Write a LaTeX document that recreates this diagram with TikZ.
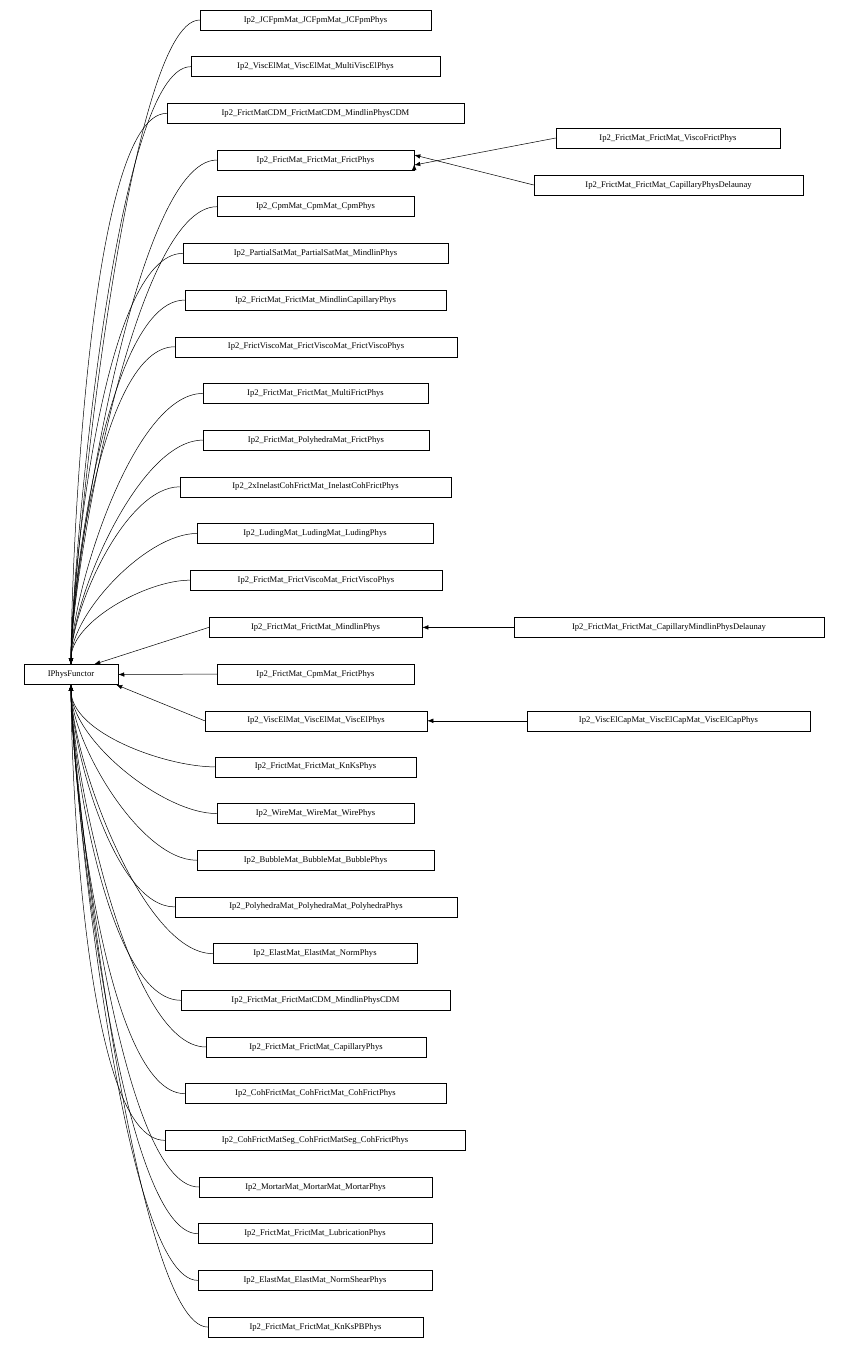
\documentclass[tikz,border=0pt]{standalone}
\usepackage{fontspec}
\setmainfont{Liberation Serif}
\usetikzlibrary{arrows.meta}
\begin{document}
\begin{tikzpicture}[x=1pt,y=-1pt,
  cls/.style={draw,line width=0.5pt,inner sep=0pt,minimum height=20pt,font=\fontsize{8.6}{10}\selectfont,anchor=center},
  arr/.style={line width=0.5pt,{Latex[length=6pt,width=4.5pt]}-}]
\useasboundingbox (0,0) rectangle (849,1350);
\node[cls,minimum width=94pt] (ip) at (71,674.5) {IPhysFunctor};
\foreach \i/\l/\r/\t in {
1/200/431/Ip2\_JCFpmMat\_JCFpmMat\_JCFpmPhys,
2/191/440/Ip2\_ViscElMat\_ViscElMat\_MultiViscElPhys,
3/167/464/Ip2\_FrictMatCDM\_FrictMatCDM\_MindlinPhysCDM,
4/217/414/Ip2\_FrictMat\_FrictMat\_FrictPhys,
5/217/414/Ip2\_CpmMat\_CpmMat\_CpmPhys,
6/183/448/Ip2\_PartialSatMat\_PartialSatMat\_MindlinPhys,
7/185/446/Ip2\_FrictMat\_FrictMat\_MindlinCapillaryPhys,
8/175/457/Ip2\_FrictViscoMat\_FrictViscoMat\_FrictViscoPhys,
9/203/428/Ip2\_FrictMat\_FrictMat\_MultiFrictPhys,
10/203/429/Ip2\_FrictMat\_PolyhedraMat\_FrictPhys,
11/180/451/Ip2\_2xInelastCohFrictMat\_InelastCohFrictPhys,
12/197/433/Ip2\_LudingMat\_LudingMat\_LudingPhys,
13/190/442/Ip2\_FrictMat\_FrictViscoMat\_FrictViscoPhys}{
  \pgfmathsetmacro\cx{(\l+\r)/2}\pgfmathsetmacro\w{\r-\l}\pgfmathsetmacro\cy{20+(\i-1)*46.68}
  \node[cls,minimum width=\w pt] (n\i) at (\cx,\cy) {\t};
  \pgfmathsetmacro\lo{0.25+0.5*(\i/13)}
  \draw[arr] (ip.north) to[out=90,in=180,looseness=\lo] (n\i.west);
}
\foreach \i/\l/\r/\t in {
17/215/416/Ip2\_FrictMat\_FrictMat\_KnKsPhys,
18/217/414/Ip2\_WireMat\_WireMat\_WirePhys,
19/197/434/Ip2\_BubbleMat\_BubbleMat\_BubblePhys,
20/175/457/Ip2\_PolyhedraMat\_PolyhedraMat\_PolyhedraPhys,
21/213/417/Ip2\_ElastMat\_ElastMat\_NormPhys,
22/181/450/Ip2\_FrictMat\_FrictMatCDM\_MindlinPhysCDM,
23/206/426/Ip2\_FrictMat\_FrictMat\_CapillaryPhys,
24/185/446/Ip2\_CohFrictMat\_CohFrictMat\_CohFrictPhys,
25/165/465/Ip2\_CohFrictMatSeg\_CohFrictMatSeg\_CohFrictPhys,
26/199/432/Ip2\_MortarMat\_MortarMat\_MortarPhys,
27/198/432/Ip2\_FrictMat\_FrictMat\_LubricationPhys,
28/198/432/Ip2\_ElastMat\_ElastMat\_NormShearPhys,
29/208/423/Ip2\_FrictMat\_FrictMat\_KnKsPBPhys}{
  \pgfmathsetmacro\cx{(\l+\r)/2}\pgfmathsetmacro\w{\r-\l}\pgfmathsetmacro\cy{20+(\i-1)*46.68}
  \node[cls,minimum width=\w pt] (n\i) at (\cx,\cy) {\t};
  \pgfmathsetmacro\lo{0.25+0.5*((30-\i)/13)}
  \draw[arr] (ip.south) to[out=-90,in=180,looseness=\lo] (n\i.west);
}
\node[cls,minimum width=213pt] (n14) at (315.5,627.4) {Ip2\_FrictMat\_FrictMat\_MindlinPhys};
\node[cls,minimum width=197pt] (n15) at (315.5,674.1) {Ip2\_FrictMat\_CpmMat\_FrictPhys};
\node[cls,minimum width=222pt] (n16) at (316,720.8) {Ip2\_ViscElMat\_ViscElMat\_ViscElPhys};
\draw[arr] ([xshift=-24pt]ip.north east) -- (n14.west);
\draw[arr] (ip.east) -- (n15.west);
\draw[arr] ([xshift=-2pt]ip.south east) -- (n16.west);
\node[cls,minimum width=224pt] (r1) at (668,138) {Ip2\_FrictMat\_FrictMat\_ViscoFrictPhys};
\node[cls,minimum width=269pt] (r2) at (668.5,185) {Ip2\_FrictMat\_FrictMat\_CapillaryPhysDelaunay};
\node[cls,minimum width=310pt] (r3) at (669,627.4) {Ip2\_FrictMat\_FrictMat\_CapillaryMindlinPhysDelaunay};
\node[cls,minimum width=283pt] (r4) at (668.5,720.8) {Ip2\_ViscElCapMat\_ViscElCapMat\_ViscElCapPhys};
\draw[arr] ([yshift=-5pt]n4.east) -- (r1.west);
\draw[arr] ([yshift=-4pt]n4.east) ++(0,0) coordinate (t) ; 
\draw[arr] ([yshift=5pt]n4.east) -- (r2.west);
\draw[arr] (n14.east) -- (r3.west);
\draw[arr] (n16.east) -- (r4.west);
\end{tikzpicture}
\end{document}
